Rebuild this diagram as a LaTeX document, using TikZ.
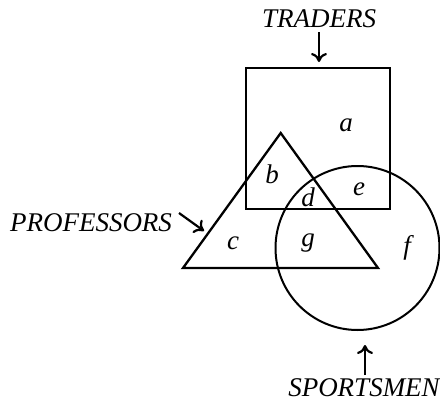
\documentclass[tikz,border=0pt]{standalone}
\usepackage{fontspec}
\setmainfont{Liberation Serif}
\usetikzlibrary{arrows.meta}
\begin{document}
\begin{tikzpicture}[x=1pt,y=-1pt,
  outline/.style={line width=2.3pt, line join=miter},
  lbl/.style={font=\fontsize{27}{30}\selectfont\itshape, inner sep=0pt},
  letter/.style={font=\fontsize{27}{30}\selectfont\itshape, inner sep=0pt},
  pointer/.style={line width=2.2pt, -{To[length=9pt,width=16pt,line width=2.2pt]}}]
\useasboundingbox (0,0) rectangle (440,402);
% square
\draw[outline] (246,68) rectangle (390,209);
% triangle
\draw[outline] (280.7,133) -- (378,268) -- (183,268) -- cycle;
% circle
\draw[line width=2pt] (357.5,248) circle (82);
% labels
\node[lbl] (traders) at (319,19) {TRADERS};
\node[lbl] (professors) at (91,223) {PROFESSORS};
\node[lbl] (sportsmen) at (364,388) {SPORTSMEN};
\coordinate (ta) at (319,32);
\coordinate (tb) at (319,62);
\coordinate (pa) at (179,213);
\coordinate (pb) at (204,231);
\coordinate (sa) at (365,375);
\coordinate (sb) at (365,345);
\draw[pointer] (ta) -- (tb);
\draw[pointer] (pa) -- (pb);
\draw[pointer] (sa) -- (sb);
% region letters
\node[letter] (a) at (346,125) {a};
\node[letter] (b) at (272,174) {b};
\node[letter] (c) at (233,243) {c};
\node[letter] (d) at (308,197) {d};
\node[letter] (e) at (359,189) {e};
\node[letter] (f) at (407,248) {f};
\node[letter] (g) at (308,243) {g};
\end{tikzpicture}
\end{document}
